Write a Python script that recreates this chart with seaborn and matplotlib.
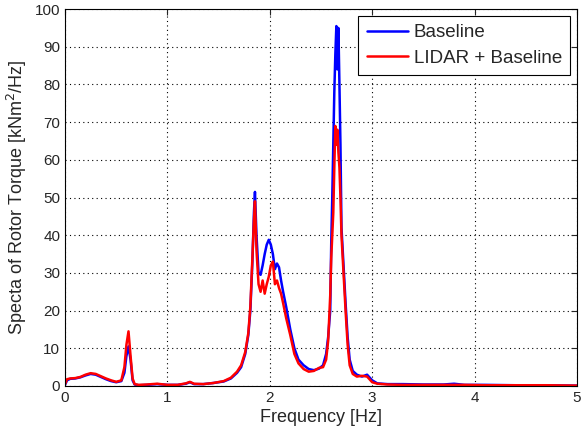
import numpy as np
import pandas as pd
import matplotlib
matplotlib.use("Agg")
import matplotlib.pyplot as plt
import seaborn as sns

# frequency grid [Hz] (denser around the peaks)
freq = [0.00, 0.02, 0.05, 0.10, 0.15, 0.20, 0.25, 0.30, 0.35, 0.40, 0.45, 0.50,
        0.55, 0.58, 0.60, 0.62, 0.64, 0.66, 0.68, 0.72, 0.80, 0.90, 1.00, 1.10,
        1.18, 1.22, 1.26, 1.35, 1.45, 1.55, 1.62, 1.68, 1.72, 1.76, 1.79, 1.81,
        1.83, 1.845, 1.855, 1.87, 1.89, 1.91, 1.93, 1.95, 1.97, 1.99, 2.01, 2.03,
        2.05, 2.07, 2.09, 2.11, 2.13, 2.16, 2.20, 2.24, 2.28, 2.33, 2.38, 2.43,
        2.48, 2.52, 2.55, 2.57, 2.59, 2.60, 2.61, 2.62, 2.63, 2.64, 2.65, 2.66,
        2.67, 2.68, 2.69, 2.70, 2.72, 2.74, 2.76, 2.78, 2.81, 2.85, 2.90, 2.95,
        3.00, 3.05, 3.15, 3.30, 3.50, 3.70, 3.80, 3.90, 4.10, 4.40, 4.70, 5.00]

baseline = [0.3, 1.5, 1.9, 2.0, 2.3, 2.8, 3.2, 3.0, 2.4, 1.8, 1.3, 1.0,
            1.3, 3.5, 8.0, 10.5, 7.0, 1.5, 0.4, 0.2, 0.3, 0.5, 0.3, 0.3,
            0.6, 1.0, 0.5, 0.5, 0.8, 1.2, 2.0, 3.5, 5.0, 8.5, 13.5, 20,
            33, 46, 51.5, 40, 30, 29.5, 32, 35, 37.5, 38.8, 37.5, 35,
            31, 32.5, 31.5, 28, 25, 21, 15, 10, 7, 5.5, 4.5, 4.2,
            4.6, 5.5, 8.5, 13, 20, 38, 50, 64, 78, 88, 95.5, 84,
            95, 80, 64, 42, 32, 22, 13, 7, 4, 3, 2.5, 3.0,
            1.5, 0.7, 0.5, 0.5, 0.4, 0.4, 0.6, 0.3, 0.3, 0.2, 0.2, 0.1]

lidar = [0.5, 1.8, 2.0, 2.1, 2.4, 3.0, 3.4, 3.2, 2.6, 2.0, 1.5, 1.1,
         1.5, 5.0, 11, 14.5, 8, 2, 0.5, 0.3, 0.4, 0.6, 0.3, 0.3,
         0.7, 1.1, 0.6, 0.5, 0.8, 1.3, 2.2, 3.8, 5.5, 9, 14, 21,
         34, 44, 49, 36, 27, 25, 28, 24.5, 27, 29, 32, 33,
         27, 28, 26, 24.5, 22, 18, 13.5, 8.5, 6, 4.5, 3.8, 4.0,
         4.8, 5, 7, 12, 24, 34, 40, 46, 58, 69, 64, 68,
         62, 58, 50, 40, 30, 20, 11, 5.5, 3.2, 2.5, 2.7, 2.5,
         1.0, 0.6, 0.4, 0.3, 0.3, 0.3, 0.3, 0.3, 0.2, 0.2, 0.2, 0.1]

df = pd.DataFrame({"freq": freq, "Baseline": baseline, "LIDAR + Baseline": lidar})
df = df.melt(id_vars="freq", var_name="case", value_name="spec")

sns.set_style("white")
plt.rcParams["font.family"] = ["Liberation Sans", "DejaVu Sans"]

fig = plt.figure(figsize=(5.82, 4.34), dpi=100)
ax = fig.add_axes([0.1117, 0.1106, 0.8797, 0.8684])

sns.lineplot(data=df, x="freq", y="spec", hue="case",
             palette={"Baseline": "#0000ff", "LIDAR + Baseline": "#ff0000"},
             linewidth=1.8, ax=ax)

ax.set_xlim(0, 5)
ax.set_ylim(0, 100)
ax.set_xticks(np.arange(0, 5.1, 1))
ax.set_yticks(np.arange(0, 101, 10))
ax.grid(True, linestyle=(0, (1, 3)), color="black", linewidth=0.8)
ax.tick_params(direction="in", top=True, right=True, labelsize=11, length=4)
for s in ax.spines.values():
    s.set_color("black")
    s.set_linewidth(0.8)

ax.set_xlabel("Frequency [Hz]", fontsize=13, labelpad=3)
ax.set_ylabel("Specta of Rotor Torque [kNm$^2$/Hz]", fontsize=13, labelpad=4)

leg = ax.legend(loc="upper right", fontsize=13.5, frameon=True, fancybox=False,
                edgecolor="black", framealpha=1, borderaxespad=0.35,
                handlelength=2.2, handletextpad=0.3, labelspacing=0.45,
                borderpad=0.45)
leg.get_frame().set_linewidth(0.8)

fig.savefig("out.png", dpi=100)
